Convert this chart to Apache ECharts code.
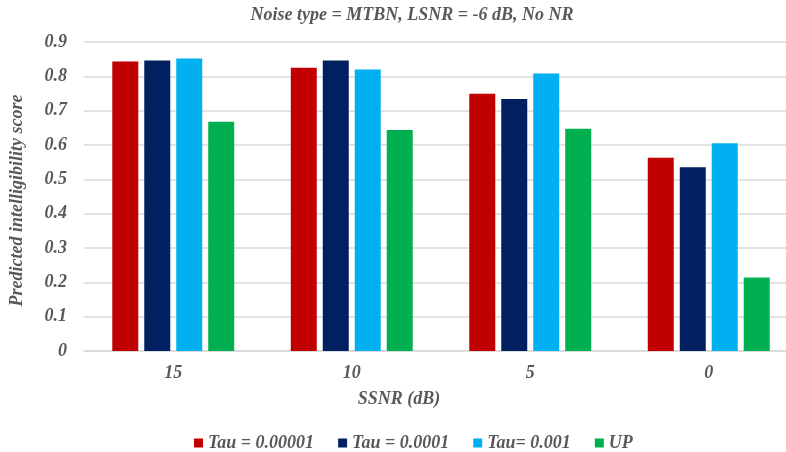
<!DOCTYPE html>
<html>
<head>
<meta charset="utf-8">
<script src="https://cdn.jsdelivr.net/npm/echarts@6/dist/echarts.min.js"></script>
<style>
  html, body { margin: 0; padding: 0; background: #fff; }
  #chart { width: 786px; height: 452px; }
</style>
</head>
<body>
<div id="chart"></div>
<script>
// SSNR categories and predicted intelligibility per setting
const categories = ['15', '10', '5', '0'];
const tau00001 = [0.843, 0.825, 0.749, 0.563];
const tau0001 = [0.846, 0.846, 0.734, 0.535];
const tau001 = [0.852, 0.820, 0.808, 0.605];
const up = [0.668, 0.644, 0.647, 0.214];
const seriesNames = ['Tau = 0.00001', 'Tau = 0.0001', 'Tau= 0.001', 'UP'];
const colors = ['#C00000', '#002060', '#00B0F0', '#00B050'];

const font = 'Liberation Serif, Times New Roman, serif';
const textGray = '#595959';
const txt = (size) => ({
  fontFamily: font, fontSize: size, fontWeight: 'bold', fontStyle: 'italic', color: textGray
});

const chart = echarts.init(document.getElementById('chart'), null, { renderer: 'canvas' });
const values = [tau00001, tau0001, tau001, up];

chart.setOption({
  animation: false,
  title: {
    text: 'Noise type = MTBN, LSNR = -6 dB, No NR',
    left: 407, top: 1, textAlign: 'center',
    textStyle: txt(18)
  },
  legend: {
    left: 189, top: 429,
    itemWidth: 9, itemHeight: 9, itemGap: 24,
    icon: 'rect',
    textStyle: txt(18),
    data: seriesNames
  },
  // plot area runs past the right edge of the canvas
  grid: { left: 84, right: -12, top: 42, bottom: 101, containLabel: false, outerBoundsMode: 'none' },
  xAxis: {
    type: 'category',
    data: categories,
    name: 'SSNR (dB)',
    nameLocation: 'middle',
    nameGap: 39,
    nameTextStyle: Object.assign(txt(18), { padding: [0, 84, 0, 0] }),
    axisLine: { lineStyle: { color: '#d9d9d9', width: 1.5 } },
    axisTick: { show: false },
    axisLabel: Object.assign(txt(18), { margin: 13 })
  },
  yAxis: {
    type: 'value',
    min: 0, max: 0.9, interval: 0.1,
    name: 'Predicted intelligibility score',
    nameLocation: 'middle',
    nameGap: 58,
    nameTextStyle: Object.assign(txt(18), { padding: [0, 8, 0, 0] }),
    axisLine: { show: false },
    axisTick: { show: false },
    axisLabel: Object.assign(txt(18), {
      margin: 17,
      formatter: (v) => (Math.round(v * 10) / 10).toString()
    }),
    splitLine: { lineStyle: { color: '#d9d9d9', width: 1.5 } }
  },
  series: seriesNames.map((name, i) => ({
    name: name,
    type: 'bar',
    data: values[i],
    barWidth: 26,
    barGap: '23%',
    itemStyle: { color: colors[i] }
  }))
});
</script>
</body>
</html>
